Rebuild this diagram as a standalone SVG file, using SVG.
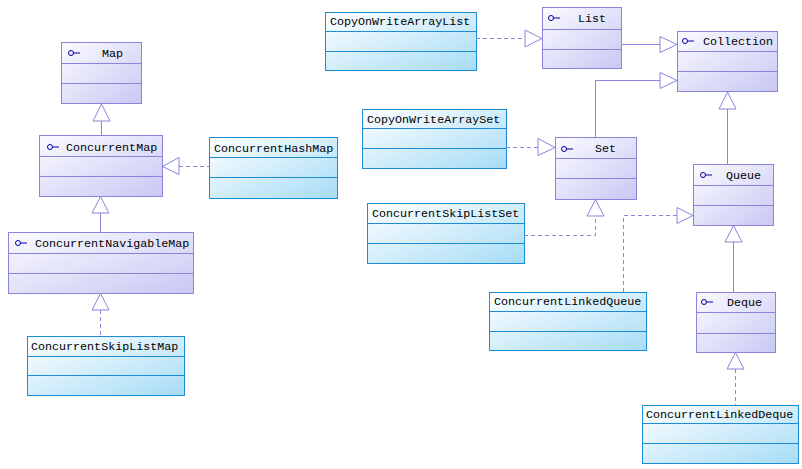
<svg xmlns="http://www.w3.org/2000/svg" width="802" height="469" viewBox="0 0 802 469">
<defs>
<linearGradient id="gi" x1="0" y1="0" x2="1" y2="1">
<stop offset="0" stop-color="#fbfbff"/>
<stop offset="1" stop-color="#c8c8f4"/>
</linearGradient>
<linearGradient id="gc" x1="0" y1="0" x2="1" y2="1">
<stop offset="0" stop-color="#ffffff"/>
<stop offset="1" stop-color="#a6dcf6"/>
</linearGradient>
<g id="ico"><circle cx="0" cy="0" r="2.5" fill="none" stroke="#0000a0" stroke-width="1"/><line x1="2.5" y1="0" x2="9" y2="0" stroke="#0000a0" stroke-width="1"/></g>
</defs>
<style>
.i rect{fill:url(#gi);stroke:#8a84dc;stroke-width:1}
.i line{stroke:#8a84dc;stroke-width:1}
.c rect{fill:url(#gc);stroke:#1e8cd2;stroke-width:1}
.c line{stroke:#1e8cd2;stroke-width:1}
text{font-family:"Liberation Mono","DejaVu Sans Mono",monospace;font-size:11.7px;fill:#000}
.e line,.e polyline{stroke:#8a84dc;stroke-width:1;fill:none}
.e .d{stroke-dasharray:4,3}
.e polygon{fill:#fff;stroke:#8a84dc;stroke-width:1}
</style>
<rect width="802" height="469" fill="#fff"/>

<g id="Map" class="i"><rect x="61.5" y="42.5" width="80" height="61"/><line x1="61.5" y1="63.5" x2="141.5" y2="63.5"/><line x1="61.5" y1="83.5" x2="141.5" y2="83.5"/><use href="#ico" x="71" y="53"/><text x="102" y="57">Map</text></g>
<g id="ConcurrentMap" class="i"><rect x="39.5" y="135.5" width="123" height="61"/><line x1="39.5" y1="156.5" x2="162.5" y2="156.5"/><line x1="39.5" y1="176.5" x2="162.5" y2="176.5"/><use href="#ico" x="50" y="147"/><text x="66" y="151">ConcurrentMap</text></g>
<g id="ConcurrentHashMap" class="c"><rect x="209.5" y="137.5" width="128" height="61"/><line x1="209.5" y1="157.5" x2="337.5" y2="157.5"/><line x1="209.5" y1="177.5" x2="337.5" y2="177.5"/><text x="214" y="152">ConcurrentHashMap</text></g>
<g id="ConcurrentNavigableMap" class="i"><rect x="8.5" y="232.5" width="185" height="61"/><line x1="8.5" y1="253.5" x2="193.5" y2="253.5"/><line x1="8.5" y1="273.5" x2="193.5" y2="273.5"/><use href="#ico" x="18" y="243"/><text x="35" y="247">ConcurrentNavigableMap</text></g>
<g id="ConcurrentSkipListMap" class="c"><rect x="27.5" y="336.5" width="157" height="59"/><line x1="27.5" y1="356.5" x2="184.5" y2="356.5"/><line x1="27.5" y1="375.5" x2="184.5" y2="375.5"/><text x="31" y="350">ConcurrentSkipListMap</text></g>

<g id="CopyOnWriteArrayList" class="c"><rect x="325.5" y="12.5" width="151" height="58"/><line x1="325.5" y1="31.5" x2="476.5" y2="31.5"/><line x1="325.5" y1="51.5" x2="476.5" y2="51.5"/><text x="330" y="25">CopyOnWriteArrayList</text></g>
<g id="List" class="i"><rect x="542.5" y="7.5" width="79" height="61"/><line x1="542.5" y1="29.5" x2="621.5" y2="29.5"/><line x1="542.5" y1="49.5" x2="621.5" y2="49.5"/><use href="#ico" x="551" y="18"/><text x="578" y="22">List</text></g>
<g id="Collection" class="i"><rect x="677.5" y="31.5" width="100" height="60"/><line x1="677.5" y1="51.5" x2="777.5" y2="51.5"/><line x1="677.5" y1="71.5" x2="777.5" y2="71.5"/><use href="#ico" x="685" y="41"/><text x="703" y="45">Collection</text></g>
<g id="CopyOnWriteArraySet" class="c"><rect x="362.5" y="109.5" width="144" height="59"/><line x1="362.5" y1="128.5" x2="506.5" y2="128.5"/><line x1="362.5" y1="148.5" x2="506.5" y2="148.5"/><text x="367" y="123">CopyOnWriteArraySet</text></g>
<g id="Set" class="i"><rect x="555.5" y="137.5" width="81" height="62"/><line x1="555.5" y1="158.5" x2="636.5" y2="158.5"/><line x1="555.5" y1="178.5" x2="636.5" y2="178.5"/><use href="#ico" x="564" y="149"/><text x="595" y="152">Set</text></g>
<g id="ConcurrentSkipListSet" class="c"><rect x="367.5" y="203.5" width="157" height="60"/><line x1="367.5" y1="223.5" x2="524.5" y2="223.5"/><line x1="367.5" y1="243.5" x2="524.5" y2="243.5"/><text x="372" y="217">ConcurrentSkipListSet</text></g>
<g id="Queue" class="i"><rect x="693.5" y="164.5" width="80" height="61"/><line x1="693.5" y1="185.5" x2="773.5" y2="185.5"/><line x1="693.5" y1="205.5" x2="773.5" y2="205.5"/><use href="#ico" x="703" y="175"/><text x="726" y="179">Queue</text></g>
<g id="ConcurrentLinkedQueue" class="c"><rect x="489.5" y="292.5" width="157" height="58"/><line x1="489.5" y1="311.5" x2="646.5" y2="311.5"/><line x1="489.5" y1="331.5" x2="646.5" y2="331.5"/><text x="494" y="305">ConcurrentLinkedQueue</text></g>
<g id="Deque" class="i"><rect x="696.5" y="292.5" width="79" height="60"/><line x1="696.5" y1="312.5" x2="775.5" y2="312.5"/><line x1="696.5" y1="333.5" x2="775.5" y2="333.5"/><use href="#ico" x="704" y="302"/><text x="727" y="306">Deque</text></g>
<g id="ConcurrentLinkedDeque" class="c"><rect x="642.5" y="405.5" width="156" height="58"/><line x1="642.5" y1="423.5" x2="798.5" y2="423.5"/><line x1="642.5" y1="443.5" x2="798.5" y2="443.5"/><text x="646" y="418">ConcurrentLinkedDeque</text></g>

<g id="connectors" class="e">
<line x1="101.5" y1="121" x2="101.5" y2="135"/><polygon points="101.5,104 93,121 110,121"/>
<line class="d" x1="179" y1="166.5" x2="209" y2="166.5"/><polygon points="162.5,166.5 179,157.5 179,174.5"/>
<line x1="100.5" y1="213" x2="100.5" y2="232"/><polygon points="100.5,196.5 92,213 109,213"/>
<line class="d" x1="100.5" y1="310" x2="100.5" y2="336"/><polygon points="100.5,293.5 92,310 109,310"/>
<line class="d" x1="476" y1="38.5" x2="525" y2="38.5"/><polygon points="542,38.5 525,30 525,47"/>
<line x1="621.5" y1="44.5" x2="660" y2="44.5"/><polygon points="677,44.5 660,36.5 660,52.5"/>
<polyline points="595.5,137 595.5,80.5 660,80.5"/><polygon points="677,80.5 660,72.5 660,88.5"/>
<line x1="727.5" y1="109" x2="727.5" y2="164"/><polygon points="727.5,92 719,109 736,109"/>
<line class="d" x1="506" y1="147.5" x2="538" y2="147.5"/><polygon points="555,147.5 538,138.5 538,155.5"/>
<polyline class="d" points="524,235.5 595.5,235.5 595.5,216"/><polygon points="595.5,199.5 587,216 604,216"/>
<polyline class="d" points="623.5,292 623.5,215.5 677,215.5"/><polygon points="693,215.5 677,207.5 677,223.5"/>
<line x1="733.5" y1="242" x2="733.5" y2="292"/><polygon points="733.5,225.5 725,242 742,242"/>
<line class="d" x1="735.5" y1="369" x2="735.5" y2="405"/><polygon points="735.5,352.5 727,369 744,369"/>
</g>
</svg>
